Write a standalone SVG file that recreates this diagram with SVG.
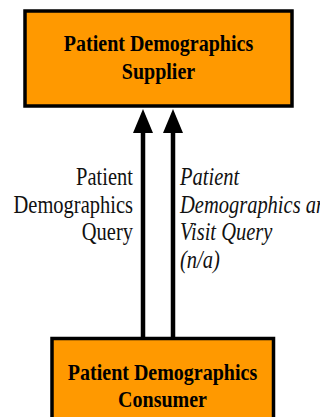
<svg xmlns="http://www.w3.org/2000/svg" width="320" height="417" viewBox="0 0 320 417">
<style>
.box{fill:#FF9900;stroke:#000;stroke-width:3.5}
.title{font-family:'Liberation Serif','Times New Roman','DejaVu Serif',serif;font-weight:bold;font-size:20px;fill:#000;text-anchor:middle}
.lbl{font-family:'Liberation Serif','Times New Roman','DejaVu Serif',serif;font-size:20.5px;fill:#111}
.it{font-style:italic}
.conn{stroke:#000;stroke-width:4.5;fill:none}
</style>
<g id="supplier">
<rect class="box" x="25" y="11" width="267" height="95"/>
<text class="title" transform="translate(158.5,51) scale(1,1.2)">Patient Demographics</text>
<text class="title" transform="translate(158.5,79) scale(1,1.2)">Supplier</text>
</g>
<g id="consumer">
<rect class="box" x="52" y="338.5" width="221.5" height="100"/>
<text class="title" transform="translate(162.5,380) scale(1,1.2)">Patient Demographics</text>
<text class="title" transform="translate(162.5,407) scale(1,1.2)">Consumer</text>
</g>
<g id="connectors">
<line class="conn" x1="143" y1="337" x2="143" y2="133"/>
<path d="M143 109 L153 133 L133 133 Z" fill="#000"/>
<line class="conn" x1="173" y1="337" x2="173" y2="133"/>
<path d="M173 109 L183 133 L163 133 Z" fill="#000"/>
</g>
<g id="labels">
<text class="lbl" text-anchor="end" transform="translate(133,185) scale(1,1.25)">Patient</text>
<text class="lbl" text-anchor="end" transform="translate(133,213) scale(1,1.25)">Demographics</text>
<text class="lbl" text-anchor="end" transform="translate(133,240) scale(1,1.25)">Query</text>
<text class="lbl it" transform="translate(180,185) scale(1,1.25)">Patient</text>
<text class="lbl it" transform="translate(180,213) scale(1,1.25)">Demographics and</text>
<text class="lbl it" transform="translate(180,240) scale(1,1.25)">Visit Query</text>
<text class="lbl it" transform="translate(180,267.5) scale(1,1.25)">(n/a)</text>
</g>
</svg>
